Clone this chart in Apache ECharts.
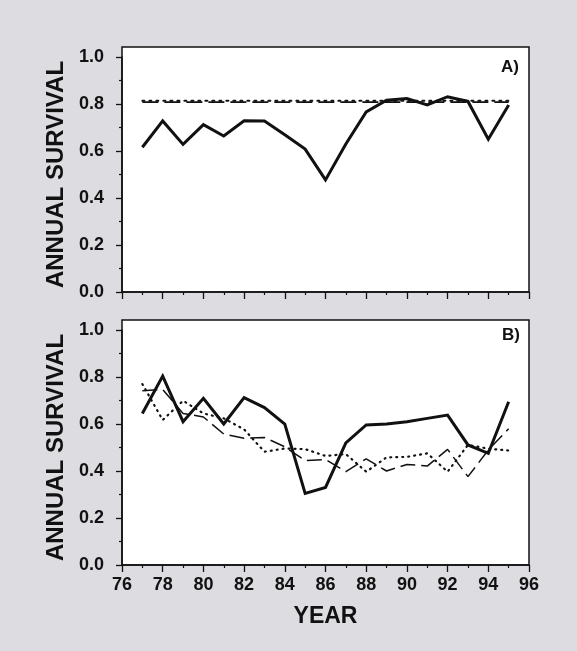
<!DOCTYPE html>
<html>
<head>
<meta charset="utf-8">
<script src="https://cdn.jsdelivr.net/npm/echarts@6/dist/echarts.min.js"></script>
<style>
html,body{margin:0;padding:0;background:#dcdce1;}
#chart{width:577px;height:651px;}
</style>
</head>
<body>
<div id="chart"></div>
<script>
// ---- data ----
var years = [77,78,79,80,81,82,83,84,85,86,87,88,89,90,91,92,93,94,95];
// Panel A
var aSolid  = [0.616,0.728,0.628,0.712,0.664,0.729,0.728,0.669,0.608,0.477,0.630,0.766,0.816,0.823,0.796,0.831,0.811,0.650,0.796];
var aDashed = [0.808,0.808,0.808,0.808,0.808,0.808,0.808,0.808,0.808,0.808,0.808,0.808,0.808,0.808,0.808,0.808,0.808,0.808,0.808];
var aDotted = [0.814,0.814,0.814,0.814,0.814,0.814,0.814,0.814,0.814,0.814,0.814,0.814,0.814,0.814,0.814,0.814,0.814,0.814,0.814];
// Panel B
var bSolid  = [0.645,0.804,0.610,0.709,0.600,0.712,0.670,0.600,0.305,0.330,0.520,0.596,0.600,0.610,0.624,0.638,0.511,0.475,0.695];
var bDashed = [0.742,0.747,0.645,0.630,0.557,0.539,0.543,0.503,0.444,0.449,0.397,0.452,0.400,0.428,0.421,0.492,0.376,0.489,0.580];
var bDotted = [0.770,0.617,0.699,0.645,0.624,0.577,0.482,0.496,0.493,0.464,0.472,0.397,0.458,0.460,0.475,0.397,0.511,0.495,0.487];
var panelLabels = ['A)','B)'];
var yName = 'ANNUAL SURVIVAL';
var xName = 'YEAR';

function pairs(vals){ return years.map(function(y,i){ return [y, vals[i]]; }); }

var FONT = '"Liberation Sans", Arial, Helvetica, sans-serif';
var BLACK = '#111';

function hiddenAxis(gi){ return {type:'value', gridIndex:gi, show:false, min:0, max:1}; }
function dataX(gi, showLabels){
  var ax = {
    type:'value', gridIndex:gi, min:76, max:96, interval:2,
    axisLine:{show:true, lineStyle:{color:BLACK, width:1.5}},
    axisTick:{show:true, inside:false, length:7, lineStyle:{color:BLACK, width:1.3}},
    minorTick:{show:true, splitNumber:2, length:3, lineStyle:{color:BLACK, width:1.2}},
    splitLine:{show:false},
    axisLabel:{show:showLabels, margin:11, color:BLACK, fontFamily:FONT, fontWeight:'bold', fontSize:18}
  };
  if (showLabels){
    ax.name = xName; ax.nameLocation = 'middle'; ax.nameGap = 40;
    ax.nameTextStyle = {color:BLACK, fontFamily:FONT, fontWeight:'bold', fontSize:23};
  }
  return ax;
}
function dataY(gi){
  return {
    type:'value', gridIndex:gi, min:0, max:1, interval:0.2,
    name:yName, nameLocation:'middle', nameGap:45,
    nameTextStyle:{color:BLACK, fontFamily:FONT, fontWeight:'bold', fontSize:24},
    axisLine:{show:true, lineStyle:{color:BLACK, width:1.5}},
    axisTick:{show:true, inside:false, length:6, lineStyle:{color:BLACK, width:1.3}},
    minorTick:{show:true, splitNumber:2, length:3, lineStyle:{color:BLACK, width:1.2}},
    splitLine:{show:false},
    axisLabel:{margin:18, color:BLACK, fontFamily:FONT, fontWeight:'bold', fontSize:18,
      formatter:function(v){ return v.toFixed(1); }}
  };
}

function line(xi, yi, vals, style){
  return {type:'line', xAxisIndex:xi, yAxisIndex:yi, data:pairs(vals), symbol:'none',
    animation:false, silent:true, lineStyle:style, z:style.z||2};
}

var option = {
  backgroundColor:'#dcdce1',
  animation:false,
  title:[
    {text:panelLabels[0], right:58, top:59, padding:0, textStyle:{color:BLACK, fontFamily:FONT, fontWeight:'bold', fontSize:17}},
    {text:panelLabels[1], right:57, top:327, padding:0, textStyle:{color:BLACK, fontFamily:FONT, fontWeight:'bold', fontSize:17}}
  ],
  grid:[
    {left:122, top:47, width:407, height:245, show:true, backgroundColor:'#ffffff', borderColor:BLACK, borderWidth:1.5},
    {left:122, top:57, width:407, height:235, show:false},
    {left:122, top:320, width:407, height:245, show:true, backgroundColor:'#ffffff', borderColor:BLACK, borderWidth:1.5},
    {left:122, top:330, width:407, height:235, show:false}
  ],
  xAxis:[hiddenAxis(0), dataX(1,false), hiddenAxis(2), dataX(3,true)],
  yAxis:[hiddenAxis(0), dataY(1), hiddenAxis(2), dataY(3)],
  series:[
    line(1,1,aDashed,{color:BLACK, width:1.6, type:[16,6]}),
    line(1,1,aDotted,{color:BLACK, width:2, type:[2,5], cap:'round'}),
    line(1,1,aSolid,{color:BLACK, width:3, join:'miter', z:3}),
    line(3,3,bDashed,{color:BLACK, width:1.5, type:[15,6]}),
    line(3,3,bDotted,{color:BLACK, width:2.2, type:[1,5], cap:'round'}),
    line(3,3,bSolid,{color:BLACK, width:3, join:'miter', z:3})
  ]
};

var chart = echarts.init(document.getElementById('chart'), null, {renderer:'canvas'});
chart.setOption(option);
</script>
</body>
</html>
